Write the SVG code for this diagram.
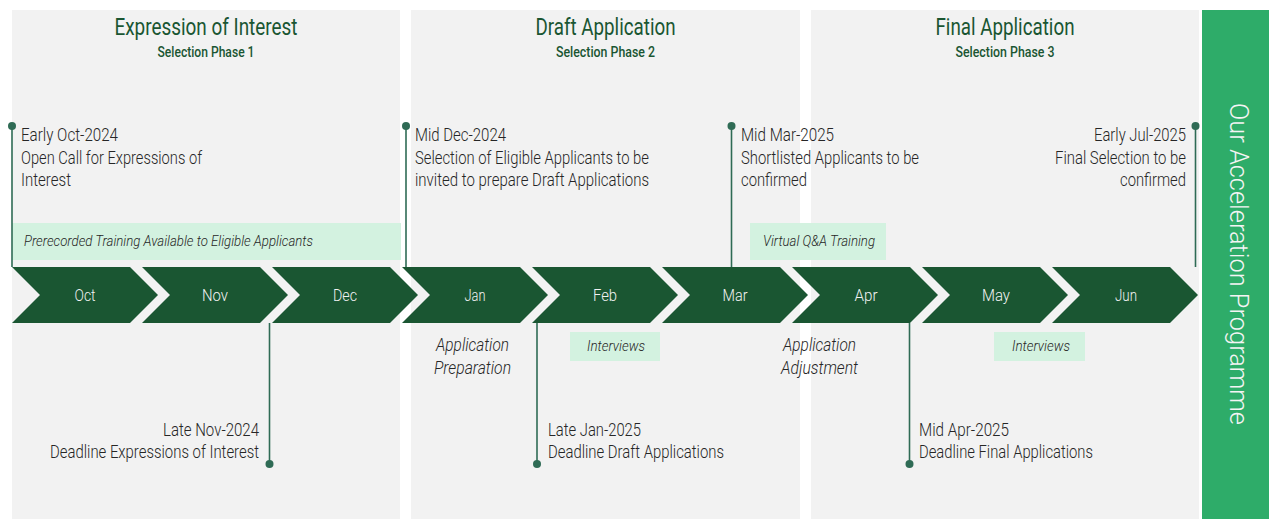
<svg xmlns="http://www.w3.org/2000/svg" width="1279" height="528" viewBox="0 0 1279 528">
<defs>
<style>
.bg{fill:#ffffff}
.panel{fill:#f2f2f2}
.bar{fill:#2eac69}
.chev{fill:#1a5632}
.box{fill:#d3f2e0}
.ln{stroke:#2f6b55;stroke-width:1.6;fill:none}
.dot{fill:#2f6b55}
.t{font-family:Roboto,"Liberation Sans",sans-serif;font-weight:300;font-size:18px;fill:#262626}
.it{font-family:Roboto,"Liberation Sans",sans-serif;font-weight:300;font-style:italic;font-size:15px;fill:#262626}
.itl{font-family:Roboto,"Liberation Sans",sans-serif;font-weight:300;font-style:italic;font-size:18px;fill:#262626}
.mo{font-family:Roboto,"Liberation Sans",sans-serif;font-weight:300;font-size:17px;fill:#f2f2f2;text-anchor:middle}
.h1{font-family:Roboto,"Liberation Sans",sans-serif;font-weight:400;font-size:23.5px;fill:#1a5632;text-anchor:middle}
.h2{font-family:Roboto,"Liberation Sans",sans-serif;font-size:15px;font-weight:500;fill:#1a5632;text-anchor:middle}
.vt{font-family:Roboto,"Liberation Sans",sans-serif;font-weight:300;font-size:25px;fill:#f4f4f4;text-anchor:middle}
</style>
<path id="chevron" d="M0,0 H118 L146,28 L118,56 H0 L28,28 Z"/>
</defs>
<rect class="bg" x="0" y="0" width="1279" height="528"/>

<g id="phase1">
<rect class="panel" x="12" y="10" width="388" height="509"/>
<text class="h1" x="206" y="35" textLength="183" lengthAdjust="spacingAndGlyphs">Expression of Interest</text>
<text class="h2" x="206" y="57" textLength="97" lengthAdjust="spacingAndGlyphs">Selection Phase 1</text>
</g>
<g id="phase2">
<rect class="panel" x="411" y="10" width="389" height="509"/>
<text class="h1" x="605.5" y="35" textLength="140" lengthAdjust="spacingAndGlyphs">Draft Application</text>
<text class="h2" x="605.5" y="57" textLength="99" lengthAdjust="spacingAndGlyphs">Selection Phase 2</text>
</g>
<g id="phase3">
<rect class="panel" x="811" y="10" width="388" height="509"/>
<text class="h1" x="1005" y="35" textLength="139" lengthAdjust="spacingAndGlyphs">Final Application</text>
<text class="h2" x="1005" y="57" textLength="99" lengthAdjust="spacingAndGlyphs">Selection Phase 3</text>
</g>
<g id="programme">
<rect class="bar" x="1202" y="10" width="67" height="509"/>
<text class="vt" transform="translate(1230,264) rotate(90)" x="0" y="0" textLength="322" lengthAdjust="spacingAndGlyphs">Our Acceleration Programme</text>
</g>

<g id="training-boxes">
<rect class="box" x="12" y="223" width="389" height="37"/>
<text class="it" x="24" y="245.5" textLength="289" lengthAdjust="spacingAndGlyphs">Prerecorded Training Available to Eligible Applicants</text>
<rect class="box" x="750" y="223" width="136" height="37"/>
<text class="it" x="763" y="245.5" textLength="112" lengthAdjust="spacingAndGlyphs">Virtual Q&amp;A Training</text>
<rect class="box" x="570" y="332" width="90" height="29"/>
<text class="it" x="587" y="350.5" textLength="58" lengthAdjust="spacingAndGlyphs">Interviews</text>
<rect class="box" x="994" y="332" width="91" height="29"/>
<text class="it" x="1012" y="350.5" textLength="58" lengthAdjust="spacingAndGlyphs">Interviews</text>
</g>

<g id="months">
<use href="#chevron" class="chev" x="12" y="267"/>
<use href="#chevron" class="chev" x="142" y="267"/>
<use href="#chevron" class="chev" x="272" y="267"/>
<use href="#chevron" class="chev" x="402" y="267"/>
<use href="#chevron" class="chev" x="532" y="267"/>
<use href="#chevron" class="chev" x="662" y="267"/>
<use href="#chevron" class="chev" x="792" y="267"/>
<use href="#chevron" class="chev" x="922" y="267"/>
<use href="#chevron" class="chev" x="1052" y="267"/>
<text class="mo" x="85" y="301" textLength="21" lengthAdjust="spacingAndGlyphs">Oct</text>
<text class="mo" x="215" y="301" textLength="26" lengthAdjust="spacingAndGlyphs">Nov</text>
<text class="mo" x="345" y="301" textLength="24" lengthAdjust="spacingAndGlyphs">Dec</text>
<text class="mo" x="475" y="301" textLength="21" lengthAdjust="spacingAndGlyphs">Jan</text>
<text class="mo" x="605" y="301" textLength="24" lengthAdjust="spacingAndGlyphs">Feb</text>
<text class="mo" x="735" y="301" textLength="25" lengthAdjust="spacingAndGlyphs">Mar</text>
<text class="mo" x="866" y="301" textLength="23" lengthAdjust="spacingAndGlyphs">Apr</text>
<text class="mo" x="996" y="301" textLength="28" lengthAdjust="spacingAndGlyphs">May</text>
<text class="mo" x="1126" y="301" textLength="22" lengthAdjust="spacingAndGlyphs">Jun</text>
</g>

<g id="connectors">
<line class="ln" x1="12" y1="126" x2="12" y2="267"/>
<circle class="dot" cx="12" cy="126" r="4"/>
<line class="ln" x1="406" y1="126" x2="406" y2="267"/>
<circle class="dot" cx="406" cy="126" r="4"/>
<line class="ln" x1="731.5" y1="126" x2="731.5" y2="267"/>
<circle class="dot" cx="731.5" cy="126" r="4"/>
<line class="ln" x1="1195.5" y1="126" x2="1195.5" y2="267"/>
<circle class="dot" cx="1195.5" cy="126" r="4"/>
<line class="ln" x1="269.5" y1="323" x2="269.5" y2="464"/>
<circle class="dot" cx="269.5" cy="464" r="4"/>
<line class="ln" x1="537" y1="323" x2="537" y2="464"/>
<circle class="dot" cx="537" cy="464" r="4"/>
<line class="ln" x1="909.5" y1="323" x2="909.5" y2="464"/>
<circle class="dot" cx="909.5" cy="464" r="4"/>
</g>

<g id="event-oct">
<text class="t" x="21" y="141" textLength="97" lengthAdjust="spacingAndGlyphs">Early Oct-2024</text>
<text class="t" x="21" y="163.5" textLength="181" lengthAdjust="spacingAndGlyphs">Open Call for Expressions of</text>
<text class="t" x="21" y="185.5" textLength="50" lengthAdjust="spacingAndGlyphs">Interest</text>
</g>
<g id="event-dec">
<text class="t" x="415" y="141" textLength="91" lengthAdjust="spacingAndGlyphs">Mid Dec-2024</text>
<text class="t" x="415" y="163.5" textLength="234" lengthAdjust="spacingAndGlyphs">Selection of Eligible Applicants to be</text>
<text class="t" x="415" y="185.5" textLength="234" lengthAdjust="spacingAndGlyphs">invited to prepare Draft Applications</text>
</g>
<g id="event-mar">
<text class="t" x="741" y="141" textLength="93" lengthAdjust="spacingAndGlyphs">Mid Mar-2025</text>
<text class="t" x="741" y="163.5" textLength="178" lengthAdjust="spacingAndGlyphs">Shortlisted Applicants to be</text>
<text class="t" x="741" y="185.5" textLength="66" lengthAdjust="spacingAndGlyphs">confirmed</text>
</g>
<g id="event-jul">
<text class="t" x="1094" y="141" textLength="92" lengthAdjust="spacingAndGlyphs">Early Jul-2025</text>
<text class="t" x="1055" y="163.5" textLength="131" lengthAdjust="spacingAndGlyphs">Final Selection to be</text>
<text class="t" x="1120" y="185.5" textLength="66" lengthAdjust="spacingAndGlyphs">confirmed</text>
</g>
<g id="event-nov">
<text class="t" x="163" y="435.5" textLength="96" lengthAdjust="spacingAndGlyphs">Late Nov-2024</text>
<text class="t" x="50" y="457.5" textLength="209" lengthAdjust="spacingAndGlyphs">Deadline Expressions of Interest</text>
</g>
<g id="event-jan">
<text class="t" x="548" y="435.5" textLength="93" lengthAdjust="spacingAndGlyphs">Late Jan-2025</text>
<text class="t" x="548" y="457.5" textLength="176" lengthAdjust="spacingAndGlyphs">Deadline Draft Applications</text>
</g>
<g id="event-apr">
<text class="t" x="919" y="435.5" textLength="90" lengthAdjust="spacingAndGlyphs">Mid Apr-2025</text>
<text class="t" x="919" y="457.5" textLength="174" lengthAdjust="spacingAndGlyphs">Deadline Final Applications</text>
</g>

<g id="phase-labels">
<text class="itl" x="436" y="351" textLength="73" lengthAdjust="spacingAndGlyphs">Application</text>
<text class="itl" x="434" y="373.5" textLength="77" lengthAdjust="spacingAndGlyphs">Preparation</text>
<text class="itl" x="783" y="351" textLength="73" lengthAdjust="spacingAndGlyphs">Application</text>
<text class="itl" x="781" y="373.5" textLength="77" lengthAdjust="spacingAndGlyphs">Adjustment</text>
</g>
</svg>
